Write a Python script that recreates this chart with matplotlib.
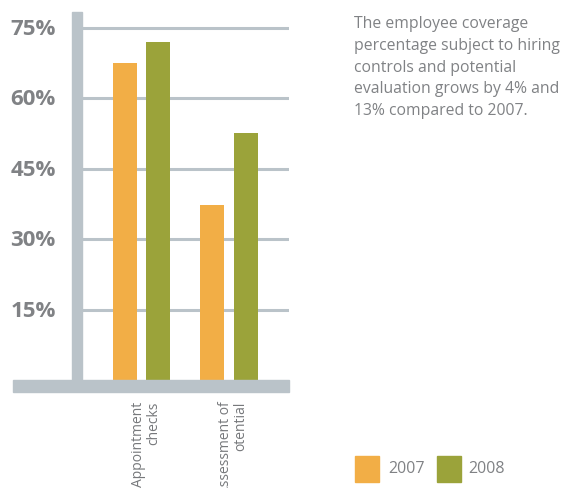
import matplotlib.pyplot as plt
from matplotlib.patches import Rectangle

categories = ["Appointment\nchecks", "Assessment of\notential"]
years = ["2007", "2008"]
values_2007 = [67.4, 37.2]
values_2008 = [71.9, 52.6]
yticks = [15, 30, 45, 60, 75]
note = ("The employee coverage\npercentage subject to hiring\ncontrols and potential\n"
        "evaluation grows by 4% and\n13% compared to 2007.")

orange = "#F2AE46"
green = "#9BA33A"
axis_gray = "#BAC3C9"
text_gray = "#808285"

W, H = 563, 488
fig = plt.figure(figsize=(W / 100, H / 100), dpi=100)

def px(x, y, w, h):
    # pixel box (top-left origin) -> figure fraction
    return [x / W, 1 - (y + h) / H, w / W, h / H]

ax = fig.add_axes(px(82, 12, 207, 368))
ax.set_xlim(-0.68, 1.686)
ax.set_ylim(0, 78.3)
for s in ax.spines.values():
    s.set_visible(False)
ax.set_xticks([])
ax.set_yticks([])

for t in yticks:
    ax.axhline(t, color=axis_gray, lw=2.2, zorder=1)
    ax.text(-0.68 - 0.3, t - 0.4, f"{t}%", ha="right", va="center", fontsize=16,
            fontweight="bold", color=text_gray, family="Open Sans")

x = range(len(categories))
off, bw = 0.189, 0.274
ax.bar([i - off for i in x], values_2007, bw, color=orange, zorder=2)
ax.bar([i + off for i in x], values_2008, bw, color=green, zorder=2)

# thick axis bars
fig.patches.append(Rectangle((72 / W, 1 - 380 / H), 10 / W, 368 / H,
                             transform=fig.transFigure, color=axis_gray, zorder=0))
fig.patches.append(Rectangle((13 / W, 1 - 392 / H), 276 / W, 12 / H,
                             transform=fig.transFigure, color=axis_gray, zorder=0))

for i, c in enumerate(categories):
    ax.text(i + 0.05, -0.058, c, transform=ax.get_xaxis_transform(), rotation=90,
            ha="center", va="top", multialignment="right", fontsize=10,
            color="#76787B", family="Open Sans", linespacing=1.05)

fig.text(354 / W, 1 - 16 / H, note, ha="left", va="top", fontsize=11.3,
         color=text_gray, family="Open Sans", linespacing=1.48)

# legend
for (lx, col), yr, tx in zip([(355, orange), (437, green)], years, [388, 468]):
    fig.patches.append(Rectangle((lx / W, 1 - 482 / H), 24 / W, 26 / H,
                                 transform=fig.transFigure, color=col))
    fig.text(tx / W, 1 - 469 / H, yr, ha="left", va="center", fontsize=11.5,
             color=text_gray, family="Open Sans")

fig.savefig("out.png", dpi=100)
